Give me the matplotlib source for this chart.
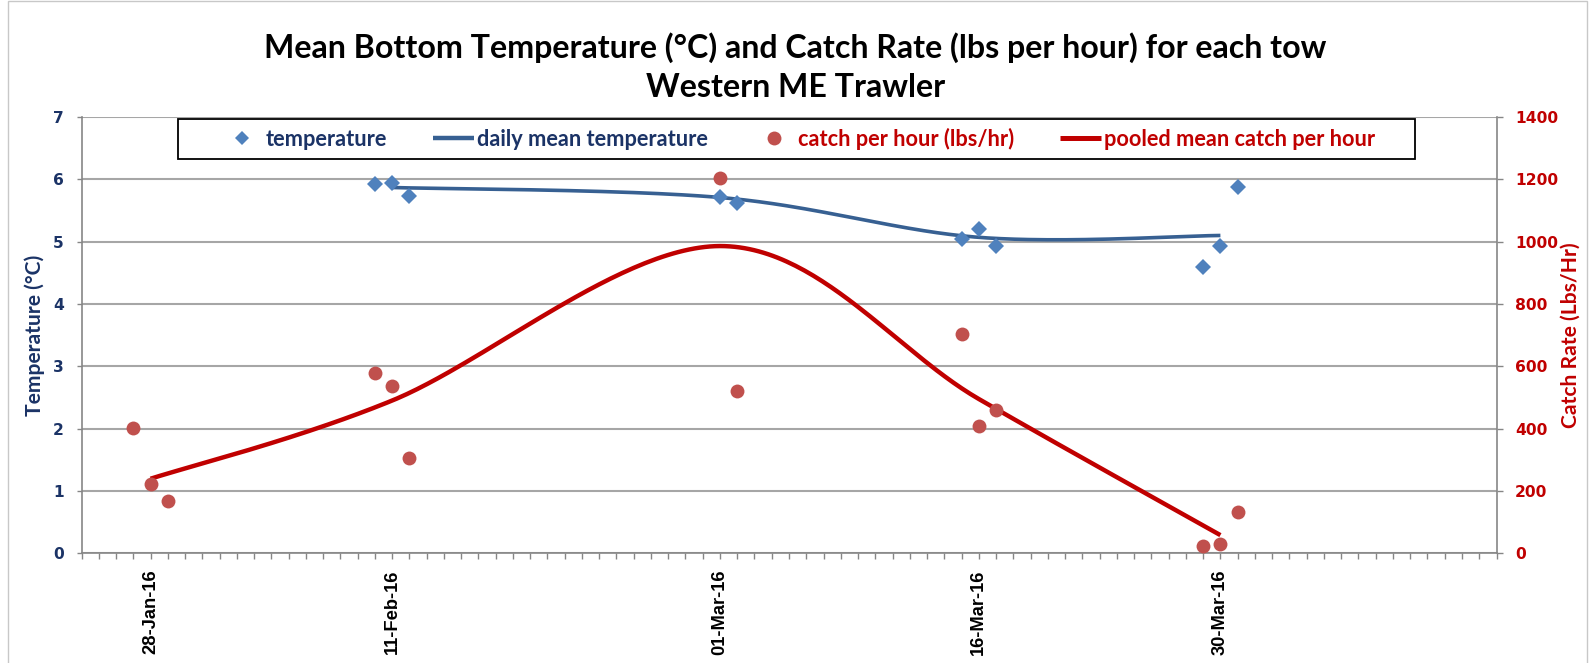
import matplotlib
matplotlib.use('Agg')
import matplotlib.pyplot as plt
import matplotlib.dates as mdates
from matplotlib.ticker import FixedLocator, FixedFormatter
from matplotlib.lines import Line2D
from matplotlib.patches import Rectangle
import numpy as np
import datetime as dt

# ---------------- data ----------------
temp_dates = ['2016-02-10', '2016-02-11', '2016-02-12', '2016-03-01', '2016-03-02',
              '2016-03-15', '2016-03-16', '2016-03-17', '2016-03-29', '2016-03-30', '2016-03-31']
temp_vals = [5.93, 5.94, 5.74, 5.72, 5.62, 5.04, 5.21, 4.93, 4.60, 4.93, 5.87]

mean_temp_dates = ['2016-02-11', '2016-03-01', '2016-03-16', '2016-03-30']
mean_temp_vals = [5.87, 5.71, 5.07, 5.10]

catch_dates = ['2016-01-27', '2016-01-28', '2016-01-29', '2016-02-10', '2016-02-11', '2016-02-12',
               '2016-03-01', '2016-03-02', '2016-03-15', '2016-03-16', '2016-03-17',
               '2016-03-29', '2016-03-30', '2016-03-31']
catch_vals = [403, 223, 169, 580, 538, 305, 1203, 522, 705, 407, 459, 24, 30, 132]

pooled_dates = ['2016-01-28', '2016-02-11', '2016-03-01', '2016-03-16', '2016-03-30']
pooled_vals = [239, 490, 986, 495, 58]

xtick_dates = ['2016-01-28', '2016-02-11', '2016-03-01', '2016-03-16', '2016-03-30']
xtick_labels = ['28-Jan-16', '11-Feb-16', '01-Mar-16', '16-Mar-16', '30-Mar-16']
x_start, x_end = '2016-01-24', '2016-04-15'

legend_labels = ['temperature', 'daily mean temperature', 'catch per hour (lbs/hr)',
                 'pooled mean catch per hour']
title_lines = ['Mean Bottom Temperature (\u00b0C) and Catch Rate (lbs per hour) for each tow',
               'Western ME Trawler']

# ---------------- style ----------------
NAVY = '#1B3366'
RED = '#C00000'
DIAM = '#4F81BD'
BLUE_LINE = '#376092'
CIRC = '#C0504D'
GRID = '#A6A6A6'
SPINE = '#868686'

W, H, DPI = 1591, 663, 100


def d(s):
    return mdates.date2num(dt.datetime.strptime(s, '%Y-%m-%d'))


def fx(px):
    return px / W


def fy(py):
    return 1 - py / H


fig = plt.figure(figsize=(W / DPI, H / DPI), dpi=DPI)
fig.patch.set_facecolor('white')
renderer = fig.canvas.get_renderer()


def fit_size(text, family, target, base=14):
    tmp = fig.text(0, 0, text, fontfamily=family, fontweight='bold', fontsize=base)
    w = tmp.get_window_extent(renderer).width
    tmp.remove()
    return base * target / w


ax = fig.add_axes([fx(81.5), fy(553.2), 1415 / W, 436.1 / H])
ax2 = ax.twinx()

ax.set_xlim(d(x_start), d(x_end))
ax.set_ylim(0, 7)
ax2.set_ylim(0, 1400)
ax.set_yticks(range(0, 8))
ax2.set_yticks(range(0, 1401, 200))

ax.xaxis.set_major_locator(FixedLocator([d(s) for s in xtick_dates]))
ax.xaxis.set_major_formatter(FixedFormatter(xtick_labels))
ax.xaxis.set_minor_locator(mdates.DayLocator())

for a in (ax, ax2):
    a.spines['top'].set_visible(False)
ax.spines['right'].set_visible(False)
ax2.spines['left'].set_visible(False)
ax2.spines['bottom'].set_visible(False)
for sp in ('left', 'bottom'):
    ax.spines[sp].set_color(SPINE)
    ax.spines[sp].set_linewidth(1.2)
ax2.spines['right'].set_color(SPINE)
ax2.spines['right'].set_linewidth(1.2)

ax.yaxis.grid(True, color=GRID, lw=1.5)
ax.set_axisbelow(True)

ax.tick_params(axis='x', which='both', direction='out', length=4.3, width=1, color=SPINE,
               pad=7.5, labelsize=13.2, labelrotation=90)
ax.tick_params(axis='y', direction='out', length=3.6, width=1, color=SPINE, pad=9,
               labelcolor=NAVY, labelsize=11.2)
ax2.tick_params(axis='y', direction='out', length=4.3, width=1, color=SPINE, pad=9,
                labelcolor=RED, labelsize=11.2)
for lab in ax.get_xticklabels():
    lab.set_fontfamily('Liberation Sans')
    lab.set_fontweight('bold')
for lab in ax.get_yticklabels() + ax2.get_yticklabels():
    lab.set_fontfamily('DejaVu Sans')
    lab.set_fontweight('bold')


def smooth_line(axis, xs, ys, n=60):
    pts = axis.transData.transform(np.column_stack([xs, ys]))
    out = [pts[0]]
    m = len(pts)
    for i in range(m - 1):
        p0 = pts[i - 1] if i > 0 else pts[i]
        p1 = pts[i]
        p2 = pts[i + 1]
        p3 = pts[i + 2] if i + 2 < m else pts[i + 1]
        c1 = p1 + (p2 - p0) / 6.0
        c2 = p2 - (p3 - p1) / 6.0
        t = np.linspace(0, 1, n)[1:, None]
        seg = (1 - t) ** 3 * p1 + 3 * (1 - t) ** 2 * t * c1 + 3 * (1 - t) * t ** 2 * c2 + t ** 3 * p2
        out.extend(seg)
    out = np.array(out)
    return axis.transData.inverted().transform(out)


# temperature series (left axis)
mt = smooth_line(ax, [d(s) for s in mean_temp_dates], mean_temp_vals)
ax.plot(mt[:, 0], mt[:, 1], color=BLUE_LINE, lw=2.6, solid_capstyle='butt', zorder=2)
ax.plot([d(s) for s in temp_dates], temp_vals, ls='none', marker='D', ms=7.8,
        color=DIAM, mec=DIAM, mew=0, zorder=3)

# catch series (right axis)
pc = smooth_line(ax2, [d(s) for s in pooled_dates], pooled_vals)
ax2.plot(pc[:, 0], pc[:, 1], color=RED, lw=3.2, solid_capstyle='butt', zorder=2)
ax2.plot([d(s) for s in catch_dates], catch_vals, ls='none', marker='o', ms=10,
         color=CIRC, mec=CIRC, mew=0, zorder=3)

# axis labels
yfs = fit_size('Temperature (\u00b0C)', 'Lato', 162)
ax.set_ylabel('Temperature (\u00b0C)', color=NAVY, fontfamily='Lato', fontweight='bold',
              fontsize=yfs)
ax.yaxis.set_label_coords((45 - 81.5) / 1415, 0.5)
ax2.set_ylabel('Catch Rate (Lbs/Hr)', color=RED, fontfamily='Lato', fontweight='bold',
               fontsize=yfs)
ax2.yaxis.set_label_coords((1561 - 81.5) / 1415, 0.5)

# title
tfs = fit_size(title_lines[0], 'Lato', 1060, 22)
fig.text(0.5, fy(58), title_lines[0], ha='center', va='baseline', fontfamily='Lato',
         fontweight='bold', fontsize=tfs, color='black')
fig.text(0.5, fy(97), title_lines[1], ha='center', va='baseline', fontfamily='Lato',
         fontweight='bold', fontsize=tfs, color='black')

# legend
lfs = fit_size(legend_labels[1], 'Lato', 232, 15)
fs_px = lfs * DPI / 72
handles = [Line2D([], [], ls='none', marker='D', ms=7.0, color=DIAM, mew=0),
           Line2D([], [], color=BLUE_LINE, lw=3.2, solid_capstyle='butt'),
           Line2D([], [], ls='none', marker='o', ms=10, color=CIRC, mew=0),
           Line2D([], [], color=RED, lw=3.6, solid_capstyle='butt')]
leg = fig.legend(handles, legend_labels, ncol=4, loc='center',
                 bbox_to_anchor=(fx(798), fy(139)), frameon=False,
                 prop={'family': 'Lato', 'weight': 'bold', 'size': lfs},
                 handlelength=41 / fs_px, handletextpad=3 / fs_px,
                 columnspacing=46 / fs_px, borderpad=0, borderaxespad=0)
for txt, c in zip(leg.get_texts(), [NAVY, NAVY, RED, RED]):
    txt.set_color(c)

fig.add_artist(Rectangle((fx(178), fy(159)), fx(1415) - fx(178), fy(119) - fy(159),
                         transform=fig.transFigure, fill=False, ec='black', lw=1.3))
# outer chart border
fig.add_artist(Rectangle((fx(8), fy(720)), fx(1587) - fx(8), fy(1) - fy(720),
                         transform=fig.transFigure, fill=False, ec='#C8C8C8', lw=1.0))

fig.savefig('out.png', dpi=DPI, facecolor='white')
